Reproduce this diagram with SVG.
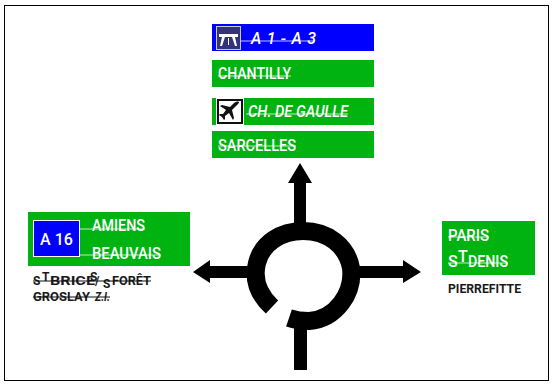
<svg xmlns="http://www.w3.org/2000/svg" width="554" height="385" viewBox="0 0 554 385">
<style>
.g{fill:#00b311}.b{fill:#0000ff}
.t{font-family:"Roboto","Liberation Sans",sans-serif;font-weight:500;font-size:16px;fill:#fff}
.i{font-style:italic}
.k{font-family:"Roboto","Liberation Sans",sans-serif;font-weight:700;font-size:12px;fill:#1a1a1a}
.s{stroke:#fff;stroke-width:1;opacity:.75}
.n{stroke:#111;stroke-width:1}
</style>
<rect x="4.500" y="5.500" width="544" height="375" fill="#fff" stroke="#000" stroke-width="1"/>
<g id="connectors">
<path d="M294 226V183H288L300 163L312 183H306V226Z"/>
<path d="M250 266H210V260L193 272L210 283V278H250Z"/>
<path d="M357 266H403V260L421 272L403 283V278H357Z"/>
<path d="M294 326H307V370H294Z"/>
<path d="M272 307C258 294 253 279 257 263C262 243 281 231 303 231C328 231 347 246 351 268C354 293 336 319 309 321C302 321 295 320 289 318" fill="none" stroke="#000" stroke-width="18"/>
</g>
<g id="sign-a1">
<rect class="b" x="212" y="24" width="162" height="27"/>
<rect x="216.500" y="26.500" width="24" height="23" fill="#33337a" stroke="#c8c8d8"/>
<path d="M219 34H238V37H219ZM222 37H225L222 46H220ZM232 37H235L237 46H235ZM228 38H229V45H228Z" fill="#fff"/>
<line class="s" x1="241" y1="41" x2="315" y2="41"/>
<text class="t i" x="251" y="44" font-size="16" textLength="65">A 1 - A 3</text>
</g>
<g id="sign-chantilly">
<rect class="g" x="212" y="60" width="162" height="27"/>
<text class="t" x="218" y="79" textLength="73" lengthAdjust="spacingAndGlyphs">CHANTILLY</text>
<line class="s" x1="218" y1="76" x2="291" y2="76"/>
</g>
<g id="sign-cdg">
<rect class="g" x="212" y="98" width="162" height="27"/>
<rect x="216" y="98" width="28" height="27" fill="#fff"/>
<rect x="218" y="100" width="24" height="23" fill="#fff" stroke="#111" stroke-width="2"/>
<path d="M239 102C237 101 235 102 233 104L230 107L222 105L220 106L226 110L223 114L220 114L219 115L222 117L224 120L225 119L225 116L229 113L233 120L234 118L232 110L236 106C238 104 239 103 239 102Z" fill="#111"/>
<text class="t i" x="248" y="117" textLength="100" lengthAdjust="spacingAndGlyphs">CH. DE GAULLE</text>
<line class="s" x1="246" y1="114" x2="348" y2="114"/>
</g>
<g id="sign-sarcelles">
<rect class="g" x="212" y="131" width="162" height="27"/>
<text class="t" x="218" y="151" textLength="78" lengthAdjust="spacingAndGlyphs">SARCELLES</text>
<line class="s" x1="218" y1="146" x2="296" y2="146"/>
</g>
<g id="sign-a16">
<rect class="g" x="28" y="212" width="162" height="54"/>
<rect class="b" x="33.500" y="220.500" width="46" height="36" stroke="#fff"/>
<text class="t" x="56.500" y="245" text-anchor="middle" font-size="14" font-weight="700">A 16</text>
<line class="s" x1="80" y1="229" x2="145" y2="229"/>
<line class="s" x1="80" y1="255" x2="161" y2="255"/>
<text class="t" x="92" y="231" textLength="53" lengthAdjust="spacingAndGlyphs">AMIENS</text>
<text class="t" x="92" y="259" textLength="69" lengthAdjust="spacingAndGlyphs">BEAUVAIS</text>
</g>
<g id="label-left">
<text class="k" x="33" y="285">S</text>
<text class="k" x="42" y="281" font-size="7">T</text>
<text class="k" x="50" y="285" textLength="45" lengthAdjust="spacingAndGlyphs">BRICE</text>
<text class="k" x="90" y="281" font-size="7">S</text>
<text class="k" x="95" y="285">/</text>
<text class="k" x="103" y="288" font-size="7">S</text>
<text class="k" x="112" y="285" textLength="39" lengthAdjust="spacingAndGlyphs">FORÊT</text>
<line class="n" x1="33" y1="281" x2="151" y2="281"/>
<text class="k" x="33" y="301" textLength="57" lengthAdjust="spacingAndGlyphs">GROSLAY</text>
<text class="k i" x="95" y="301" textLength="15" lengthAdjust="spacingAndGlyphs">Z.I.</text>
<line class="n" x1="33" y1="297" x2="110" y2="297"/>
</g>
<g id="sign-paris">
<rect class="g" x="442" y="221" width="93" height="54"/>
<text class="t" x="448" y="241" textLength="41" lengthAdjust="spacingAndGlyphs">PARIS</text>
<line class="s" x1="448" y1="237" x2="489" y2="237"/>
<text class="t" x="448" y="267">S</text>
<text class="t" x="458" y="262" font-size="8">T</text>
<text class="t" x="468" y="267" textLength="40" lengthAdjust="spacingAndGlyphs">DENIS</text>
<line class="s" x1="448" y1="263" x2="508" y2="263"/>
</g>
<g id="label-right">
<text class="k" x="448" y="293" textLength="73" lengthAdjust="spacingAndGlyphs">PIERREFITTE</text>
</g>
</svg>
